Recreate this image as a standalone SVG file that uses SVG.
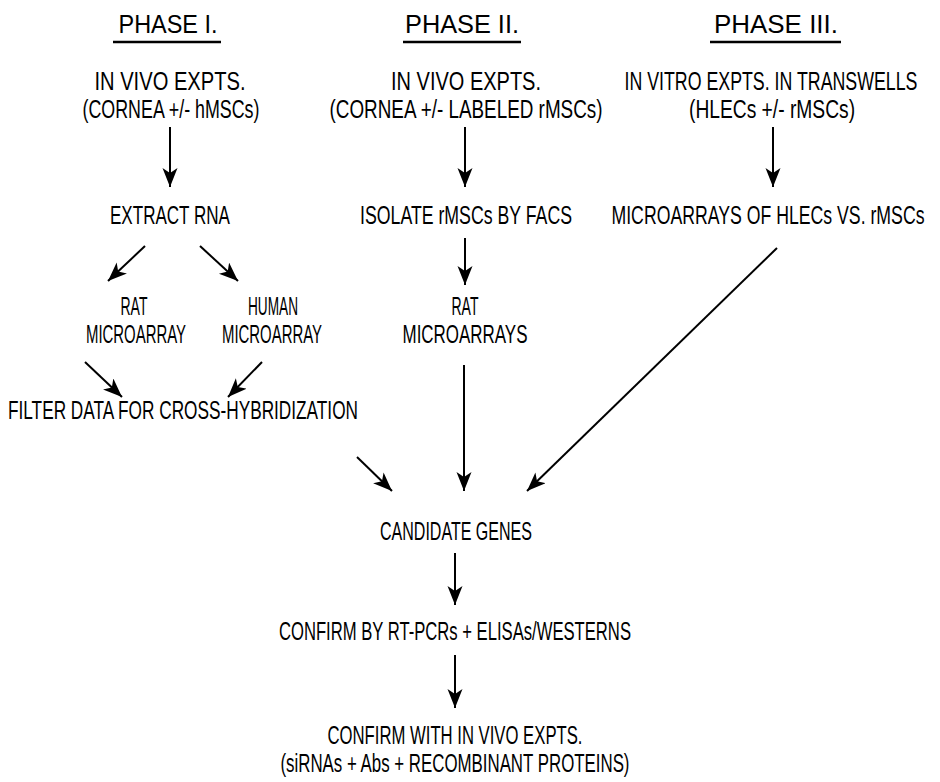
<svg xmlns="http://www.w3.org/2000/svg" width="940" height="782" viewBox="0 0 940 782">
<defs>
<style>
text{font-family:"Liberation Sans",Arial,sans-serif;font-size:26px;fill:#000;text-anchor:middle}
.c line{stroke:#000;stroke-width:2;fill:none}
.u{stroke:#000;stroke-width:2.4}
</style>
<marker id="ah" markerUnits="userSpaceOnUse" markerWidth="22" markerHeight="18" refX="19" refY="7.5" orient="auto">
<path d="M0,0 L19,7.5 L0,15 L5,7.5 z" fill="#000"/>
</marker>
</defs>
<rect width="940" height="782" fill="#fff"/>
<g id="phase1">
<text transform="scale(0.6,1)" x="280" y="33" textLength="165" lengthAdjust="spacingAndGlyphs">PHASE I.</text>
<line class="u" x1="113" y1="42" x2="221" y2="42"/>
</g>
<g id="phase2">
<text transform="scale(0.6,1)" x="770" y="33" textLength="190" lengthAdjust="spacingAndGlyphs">PHASE II.</text>
<line class="u" x1="403" y1="42" x2="521" y2="42"/>
</g>
<g id="phase3">
<text transform="scale(0.6,1)" x="1293.3" y="33" textLength="206.7" lengthAdjust="spacingAndGlyphs">PHASE III.</text>
<line class="u" x1="710" y1="42" x2="841" y2="42"/>
</g>
<g id="n1" transform="scale(0.6,1)">
<text x="283.3" y="90" textLength="251.7" lengthAdjust="spacingAndGlyphs">IN VIVO EXPTS.</text>
<text x="285" y="118" textLength="295" lengthAdjust="spacingAndGlyphs">(CORNEA +/- hMSCs)</text>
</g>
<g id="n2" transform="scale(0.6,1)">
<text x="776.7" y="90" textLength="250" lengthAdjust="spacingAndGlyphs">IN VIVO EXPTS.</text>
<text x="776.7" y="118" textLength="455" lengthAdjust="spacingAndGlyphs">(CORNEA +/- LABELED rMSCs)</text>
</g>
<g id="n3" transform="scale(0.6,1)">
<text x="1285" y="90" textLength="488.3" lengthAdjust="spacingAndGlyphs">IN VITRO EXPTS. IN TRANSWELLS</text>
<text x="1286.7" y="118" textLength="276.7" lengthAdjust="spacingAndGlyphs">(HLECs +/- rMSCs)</text>
</g>
<g id="n4" transform="scale(0.6,1)"><text x="283.3" y="224" textLength="200" lengthAdjust="spacingAndGlyphs">EXTRACT RNA</text></g>
<g id="n5" transform="scale(0.6,1)"><text x="776.7" y="224" textLength="353.3" lengthAdjust="spacingAndGlyphs">ISOLATE rMSCs BY FACS</text></g>
<g id="n6" transform="scale(0.6,1)"><text x="1280" y="224" textLength="521.7" lengthAdjust="spacingAndGlyphs">MICROARRAYS OF HLECs VS. rMSCs</text></g>
<g id="n7" transform="scale(0.6,1)">
<text x="223.3" y="315" textLength="45" lengthAdjust="spacingAndGlyphs">RAT</text>
<text x="226.7" y="343" textLength="166.7" lengthAdjust="spacingAndGlyphs">MICROARRAY</text>
</g>
<g id="n8" transform="scale(0.6,1)">
<text x="455" y="315" textLength="83.3" lengthAdjust="spacingAndGlyphs">HUMAN</text>
<text x="453.3" y="343" textLength="166.7" lengthAdjust="spacingAndGlyphs">MICROARRAY</text>
</g>
<g id="n9" transform="scale(0.6,1)">
<text x="775" y="315" textLength="45" lengthAdjust="spacingAndGlyphs">RAT</text>
<text x="775" y="343" textLength="208.3" lengthAdjust="spacingAndGlyphs">MICROARRAYS</text>
</g>
<g id="n10" transform="scale(0.6,1)"><text x="305" y="419" textLength="583.3" lengthAdjust="spacingAndGlyphs">FILTER DATA FOR CROSS-HYBRIDIZATION</text></g>
<g id="n11" transform="scale(0.6,1)"><text x="760" y="540" textLength="253.3" lengthAdjust="spacingAndGlyphs">CANDIDATE GENES</text></g>
<g id="n12" transform="scale(0.6,1)"><text x="758.3" y="640" textLength="586.7" lengthAdjust="spacingAndGlyphs">CONFIRM BY RT-PCRs + ELISAs/WESTERNS</text></g>
<g id="n13" transform="scale(0.6,1)">
<text x="758.3" y="744" textLength="425" lengthAdjust="spacingAndGlyphs">CONFIRM WITH IN VIVO EXPTS.</text>
<text x="758.3" y="772" textLength="581.7" lengthAdjust="spacingAndGlyphs">(siRNAs + Abs + RECOMBINANT PROTEINS)</text>
</g>
<g id="connectors" class="c">
<line x1="170" y1="127" x2="170" y2="187" marker-end="url(#ah)"/>
<line x1="465" y1="127" x2="465" y2="187" marker-end="url(#ah)"/>
<line x1="773" y1="127" x2="773" y2="187" marker-end="url(#ah)"/>
<line x1="145" y1="246" x2="108" y2="281" marker-end="url(#ah)"/>
<line x1="200" y1="246" x2="238" y2="281" marker-end="url(#ah)"/>
<line x1="465" y1="238" x2="465" y2="285" marker-end="url(#ah)"/>
<line x1="85" y1="362" x2="122" y2="397" marker-end="url(#ah)"/>
<line x1="262" y1="362" x2="228" y2="397" marker-end="url(#ah)"/>
<line x1="357" y1="457" x2="392" y2="491" marker-end="url(#ah)"/>
<line x1="464" y1="365" x2="464" y2="491" marker-end="url(#ah)"/>
<line x1="777" y1="248" x2="527" y2="491" marker-end="url(#ah)"/>
<line x1="455" y1="553" x2="455" y2="605" marker-end="url(#ah)"/>
<line x1="455" y1="655" x2="455" y2="708" marker-end="url(#ah)"/>
</g>
</svg>
